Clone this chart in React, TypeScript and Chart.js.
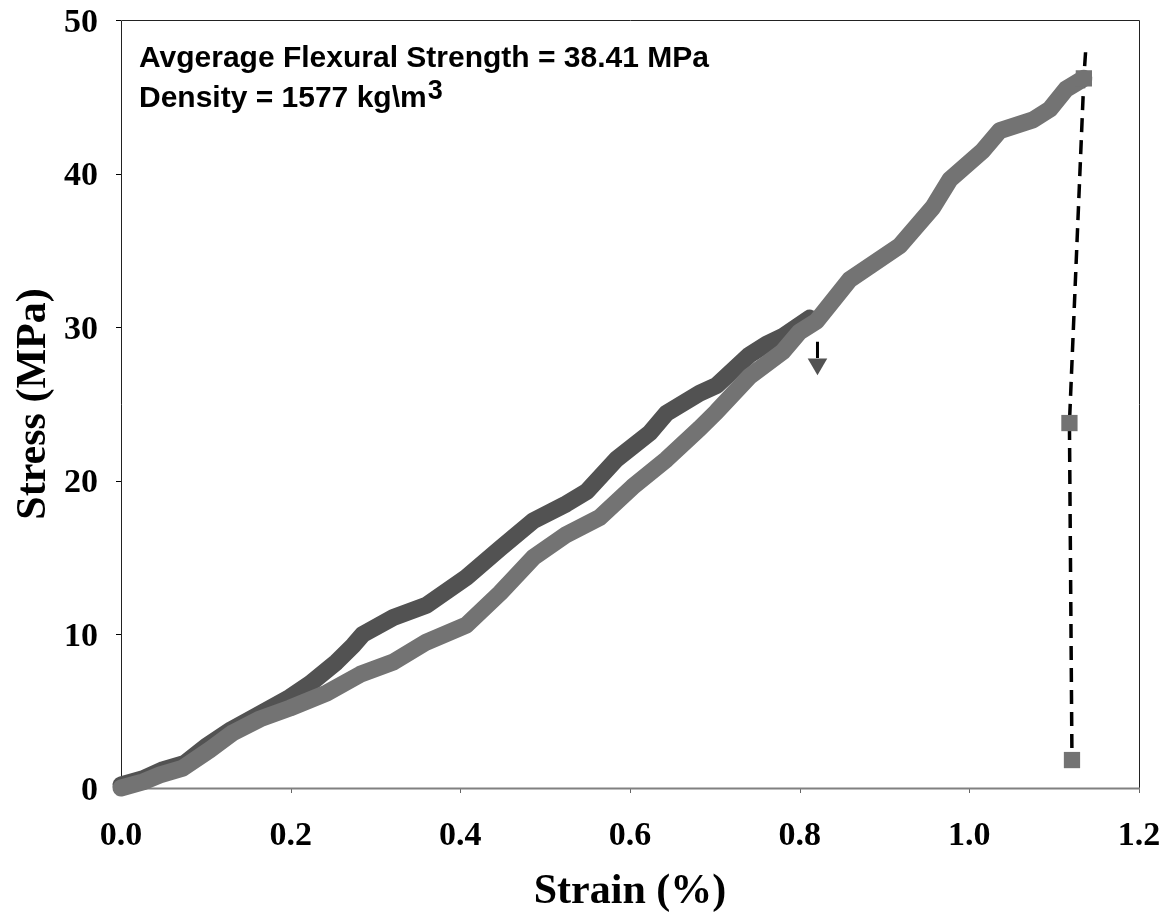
import React, { useEffect, useRef } from 'react';
import { Chart, registerables } from 'chart.js';

Chart.register(...registerables);

// ---- data ----
const lightStrain = [0.0, 0.026, 0.046, 0.073, 0.105, 0.132, 0.164, 0.199, 0.243, 0.282, 0.321, 0.36, 0.407, 0.447, 0.486, 0.525, 0.564, 0.603, 0.643, 0.682, 0.702, 0.741, 0.78, 0.8, 0.82, 0.859, 0.918, 0.957, 0.977, 1.016, 1.036, 1.075, 1.095, 1.114, 1.135];
const lightStress = [0.0, 0.4, 0.85, 1.3, 2.5, 3.6, 4.5, 5.2, 6.2, 7.4, 8.2, 9.5, 10.6, 12.7, 15.0, 16.5, 17.6, 19.6, 21.4, 23.4, 24.5, 26.8, 28.4, 29.7, 30.4, 33.1, 35.3, 37.8, 39.6, 41.5, 42.8, 43.5, 44.2, 45.5, 46.2];

const darkStrain = [0.0, 0.026, 0.05, 0.075, 0.1, 0.13, 0.16, 0.199, 0.223, 0.254, 0.274, 0.285, 0.321, 0.36, 0.407, 0.447, 0.486, 0.525, 0.549, 0.584, 0.623, 0.643, 0.682, 0.702, 0.741, 0.761, 0.78, 0.812];
const darkStress = [0.2, 0.6, 1.2, 1.6, 2.7, 3.8, 4.7, 5.9, 6.8, 8.2, 9.3, 10.0, 11.1, 11.9, 13.7, 15.6, 17.4, 18.5, 19.3, 21.4, 23.1, 24.4, 25.7, 26.2, 28.2, 28.9, 29.4, 30.6];

const endStrain = [1.135, 1.118, 1.121];
const endStress = [46.2, 23.76, 1.82];

const dashStrain = [1.137, 1.135, 1.118, 1.121];
const dashStress = [47.9, 46.2, 23.76, 1.82];

const arrowStrain = [0.821, 0.821];
const arrowStress = [29.05, 28.0];
const arrowHeadStrain = [0.821];
const arrowHeadStress = [27.6];

const xTicks = [0, 0.2, 0.4, 0.6, 0.8, 1.0, 1.2];
const yTicks = [0, 10, 20, 30, 40, 50];
const xTitle = 'Strain (%)';
const yTitle = 'Stress (MPa)';
const note1 = 'Avgerage Flexural Strength = 38.41 MPa';
const note2 = 'Density = 1577 kg\\m';
const note2Sup = '3';

const LIGHT = '#737373';
const DARK = '#525252';

const pts = (xs: number[], ys: number[]) => xs.map((x, i) => ({ x, y: ys[i] }));

const framePlugin = {
  id: 'frame',
  beforeDatasetsDraw(chart: any) {
    const { ctx, chartArea: ca, scales } = chart;
    const xs = scales.x;
    const ys = scales.y;
    ctx.save();
    ctx.strokeStyle = '#000';
    ctx.lineWidth = 1;
    ctx.beginPath();
    yTicks.forEach((v) => {
      const y = Math.round(ys.getPixelForValue(v)) + 0.5;
      ctx.moveTo(ca.left - 5, y);
      ctx.lineTo(ca.left, y);
    });
    ctx.stroke();
    ctx.strokeStyle = '#666';
    ctx.beginPath();
    xTicks.forEach((v) => {
      const x = Math.round(xs.getPixelForValue(v)) + 0.5;
      ctx.moveTo(x, ca.bottom);
      ctx.lineTo(x, ca.bottom + 5);
    });
    ctx.stroke();
    ctx.strokeStyle = '#222';
    ctx.lineWidth = 1;
    ctx.beginPath();
    ctx.moveTo(Math.round(ca.left) + 0.5, Math.round(ca.bottom));
    ctx.lineTo(Math.round(ca.left) + 0.5, Math.round(ca.top) + 0.5);
    ctx.lineTo(Math.round(ca.right) + 0.5, Math.round(ca.top) + 0.5);
    ctx.lineTo(Math.round(ca.right) + 0.5, Math.round(ca.bottom) + 1);
    ctx.stroke();
    ctx.strokeStyle = '#808080';
    ctx.lineWidth = 2;
    ctx.beginPath();
    ctx.moveTo(ca.left - 5, Math.round(ca.bottom) + 0.5);
    ctx.lineTo(ca.right + 1, Math.round(ca.bottom) + 0.5);
    ctx.stroke();
    ctx.restore();
  },
  afterDraw(chart: any) {
    const { ctx, chartArea: ca, scales } = chart;
    const xs = scales.x;
    const ys = scales.y;
    ctx.save();
    ctx.fillStyle = '#000';
    ctx.textBaseline = 'alphabetic';
    ctx.font = 'bold 34px "Liberation Serif", "Times New Roman", serif';
    ctx.textAlign = 'right';
    yTicks.forEach((v) => {
      ctx.fillText(String(v), 98, ys.getPixelForValue(v) + 11.5);
    });
    ctx.textAlign = 'center';
    xTicks.forEach((v) => {
      ctx.fillText(v.toFixed(1), xs.getPixelForValue(v), ca.bottom + 57);
    });
    ctx.font = 'bold 42px "Liberation Serif", "Times New Roman", serif';
    ctx.fillText(xTitle, (ca.left + ca.right) / 2, 903);
    ctx.save();
    ctx.translate(45, (ca.top + ca.bottom) / 2);
    ctx.rotate(-Math.PI / 2);
    ctx.fillText(yTitle, 0, 0);
    ctx.restore();
    ctx.textAlign = 'left';
    ctx.font = 'bold 30px "Liberation Sans", Arial, sans-serif';
    ctx.fillText(note1, 139, 67);
    ctx.fillText(note2, 139, 107);
    const w = ctx.measureText(note2).width;
    ctx.font = 'bold 27px "Liberation Sans", Arial, sans-serif';
    ctx.fillText(note2Sup, 139 + w + 1, 99);
    ctx.restore();
  },
};

export default function App() {
  const ref = useRef<HTMLCanvasElement>(null);
  useEffect(() => {
    document.body.style.margin = '0';
    const canvas = ref.current;
    if (!canvas) return;
    const chart = new Chart(canvas, {
      type: 'scatter',
      data: {
        datasets: [
          {
            label: 'ends',
            data: pts(endStrain, endStress),
            showLine: false,
            pointStyle: 'rect',
            pointRadius: 11.5,
            pointBackgroundColor: LIGHT,
            pointBorderColor: LIGHT,
            pointBorderWidth: 0,
            clip: false,
            order: 0,
          },
          {
            label: 'arrowHead',
            data: pts(arrowHeadStrain, arrowHeadStress),
            showLine: false,
            pointStyle: 'triangle',
            rotation: 180,
            pointRadius: 11.3,
            pointBackgroundColor: DARK,
            pointBorderColor: DARK,
            pointBorderWidth: 0,
            order: 0,
          },
          {
            label: 'arrowStem',
            data: pts(arrowStrain, arrowStress),
            showLine: true,
            borderColor: '#000',
            borderWidth: 3,
            pointRadius: 0,
            order: 1,
          },
          {
            label: 'light',
            data: pts(lightStrain, lightStress),
            showLine: true,
            borderColor: LIGHT,
            borderWidth: 17,
            borderJoinStyle: 'round',
            borderCapStyle: 'round',
            pointRadius: 0,
            tension: 0,
            clip: false,
            order: 2,
          },
          {
            label: 'dash',
            data: pts(dashStrain, dashStress),
            showLine: true,
            borderColor: '#000',
            borderWidth: 3.5,
            borderDash: [14, 8],
            pointRadius: 0,
            clip: false,
            order: 3,
          },
          {
            label: 'dark',
            data: pts(darkStrain, darkStress),
            showLine: true,
            borderColor: DARK,
            borderWidth: 17,
            borderJoinStyle: 'round',
            borderCapStyle: 'round',
            pointRadius: 0,
            tension: 0,
            clip: false,
            order: 4,
          },
        ],
      },
      options: {
        animation: false,
        responsive: false,
        devicePixelRatio: 1,
        layout: { padding: { left: 121, top: 20, right: 30, bottom: 125 } },
        plugins: { legend: { display: false }, tooltip: { enabled: false } },
        scales: {
          x: { type: 'linear', display: false, min: 0, max: 1.2 },
          y: { type: 'linear', display: false, min: 0, max: 50 },
        },
      },
      plugins: [framePlugin],
    });
    return () => chart.destroy();
  }, []);
  return <canvas ref={ref} width={1169} height={913} style={{ display: 'block' }} />;
}
